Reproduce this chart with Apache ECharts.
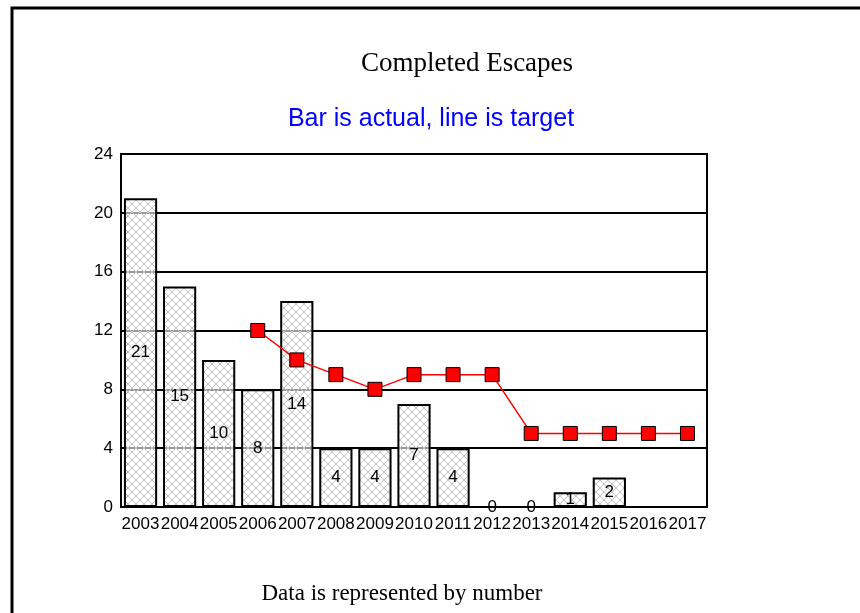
<!DOCTYPE html>
<html><head><meta charset="utf-8">
<script src="https://cdn.jsdelivr.net/npm/echarts@6/dist/echarts.min.js"></script>
<style>html,body{margin:0;padding:0;background:#fff}#c{width:860px;height:613px}</style>
</head><body><div id="c"></div>
<script>
const categories = ['2003','2004','2005','2006','2007','2008','2009','2010','2011','2012','2013','2014','2015','2016','2017'];
const actual = [21, 15, 10, 8, 14, 4, 4, 7, 4, 0, 0, 1, 2, null, null];
const target = [null, null, null, 12, 10, 9, 8, 9, 9, 9, 5, 5, 5, 5, 5];
const yTicks = {min: 0, max: 24, interval: 4};

const pc = document.createElement('canvas');
pc.width = 8; pc.height = 8;
const g = pc.getContext('2d');
g.fillStyle = 'rgba(255,255,255,0.6)';
g.fillRect(0,0,8,8);
g.strokeStyle = '#c4c4c4';
g.lineWidth = 1;
g.beginPath();
g.moveTo(0,0); g.lineTo(8,8);
g.moveTo(8,0); g.lineTo(0,8);
g.stroke();

const chart = echarts.init(document.getElementById('c'), null, {renderer: 'canvas'});
chart.setOption({
  animation: false,
  backgroundColor: '#fff',
  title: [
    {text: 'Completed Escapes', left: 462, top: 45, textAlign: 'center',
     textStyle: {fontFamily: 'Liberation Serif', fontSize: 27, fontWeight: 'normal', color: '#000'}},
    {text: 'Bar is actual, line is target', left: 426, top: 102, textAlign: 'center',
     textStyle: {fontFamily: 'Liberation Sans', fontSize: 25, fontWeight: 'normal', color: '#0000ff'}},
    {text: 'Data is represented by number', left: 397, top: 577, textAlign: 'center',
     textStyle: {fontFamily: 'Liberation Serif', fontSize: 23, fontWeight: 'normal', color: '#000'}}
  ],
  graphic: [
    {type: 'polyline', shape: {points: [[12, 613], [12, 8], [860, 8]]},
     style: {stroke: '#000', lineWidth: 3, fill: null}, silent: true},
    {type: 'rect', shape: {x: 121, y: 154, width: 586, height: 353},
     style: {stroke: '#000', lineWidth: 2, fill: null}, silent: true, z: 10}
  ],
  grid: {left: 121, right: 153, top: 154, bottom: 106, containLabel: false},
  xAxis: {
    type: 'category', data: categories,
    axisLine: {lineStyle: {color: '#000', width: 2}},
    axisTick: {show: false},
    axisLabel: {color: '#000', fontFamily: 'Liberation Sans', fontSize: 17, margin: 9, interval: 0}
  },
  yAxis: {
    type: 'value', min: yTicks.min, max: yTicks.max, interval: yTicks.interval,
    axisLine: {show: true, lineStyle: {color: '#000', width: 2}},
    axisTick: {show: false},
    axisLabel: {color: '#000', fontFamily: 'Liberation Sans', fontSize: 17, margin: 8},
    splitLine: {lineStyle: {color: '#000', width: 2}}
  },
  series: [
    {type: 'bar', data: actual, barCategoryGap: '15%',
     itemStyle: {color: {image: pc, repeat: 'repeat'}, borderColor: '#000', borderWidth: 2},
     label: {show: true, position: 'inside', color: '#000', fontFamily: 'Liberation Sans', fontSize: 17},
     z: 2},
    {type: 'line', data: target, symbol: 'rect', symbolSize: 14,
     lineStyle: {color: '#ff0000', width: 1.5},
     itemStyle: {color: '#ff0000', borderColor: '#000', borderWidth: 1},
     z: 5}
  ]
});
</script></body></html>
